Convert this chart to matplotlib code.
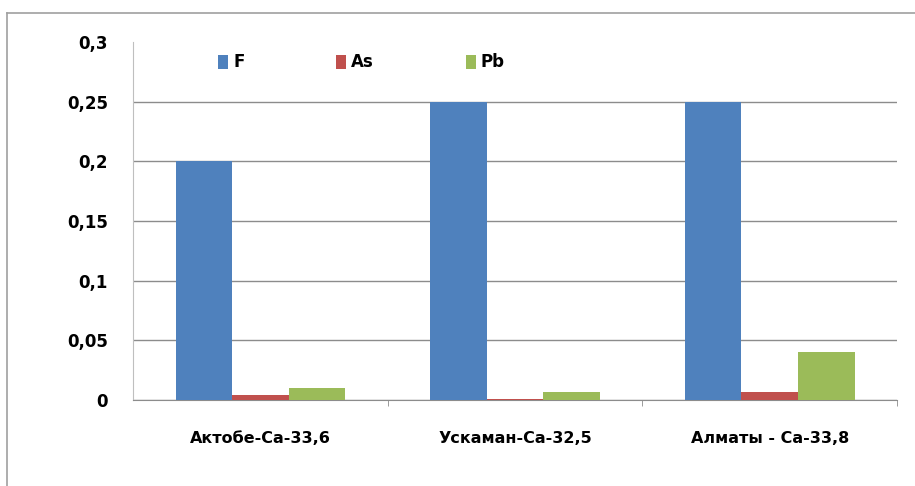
import numpy as np
import matplotlib.pyplot as plt
from matplotlib.lines import Line2D

cities = ['Актобе-Са-33,6', 'Ускаман-Са-32,5', 'Алматы - Са-33,8']
series = ['F', 'As', 'Pb']
F = [0.2, 0.25, 0.25]
As = [0.0045, 0.001, 0.007]
Pb = [0.01, 0.007, 0.04]
colors = ['#4F81BD', '#C0504D', '#9BBB59']

plt.rcParams['font.family'] = ['DejaVu Sans']

fig = plt.figure(figsize=(9.15, 4.86), dpi=100)
ax = fig.add_axes([0.1454, 0.177, 0.835, 0.7366])

x = np.arange(len(cities))
w = 0.222
for i, (vals, name) in enumerate(zip([F, As, Pb], series)):
    ax.bar(x + (i - 1) * w, vals, w, color=colors[i], label=name, zorder=3)

ax.set_xlim(-0.5, 2.5)
ax.set_ylim(0, 0.3)
yt = [0, 0.05, 0.1, 0.15, 0.2, 0.25, 0.3]
ax.set_yticks(yt)
ax.set_yticklabels(['0', '0,05', '0,1', '0,15', '0,2', '0,25', '0,3'],
                   fontsize=12, fontweight='bold')
ax.yaxis.grid(True, color='#8c8c8c', linewidth=1, zorder=0)
ax.get_ygridlines()[-1].set_visible(False)
ax.set_xticks(x)
ax.set_xticklabels(cities, fontsize=11.5, fontweight='bold')
ax.set_xticks([0.5, 1.5, 2.5], minor=True)
ax.tick_params(axis='x', which='major', length=0, pad=22)
ax.tick_params(axis='x', which='minor', length=4, color='#8c8c8c')
ax.tick_params(axis='y', length=0, pad=18)

for s in ['top', 'right']:
    ax.spines[s].set_visible(False)
ax.spines['left'].set_color('#bfbfbf')
ax.spines['bottom'].set_color('#8c8c8c')

leg = ax.legend(loc='upper left', bbox_to_anchor=(0.092, 1.01), ncol=3,
                frameon=False, fontsize=12, handlelength=0.6, handleheight=0.9,
                handletextpad=0.3, columnspacing=5.5)
for t in leg.get_texts():
    t.set_fontweight('bold')

# outer chart frame (only top and left edges visible in the crop)
fig.add_artist(Line2D([0.008, 1.0], [0.973, 0.973], transform=fig.transFigure,
                      color='#a0a0a0', linewidth=1.2))
fig.add_artist(Line2D([0.008, 0.008], [0.0, 0.973], transform=fig.transFigure,
                      color='#a0a0a0', linewidth=1.2))

fig.savefig('out.png', dpi=100)
